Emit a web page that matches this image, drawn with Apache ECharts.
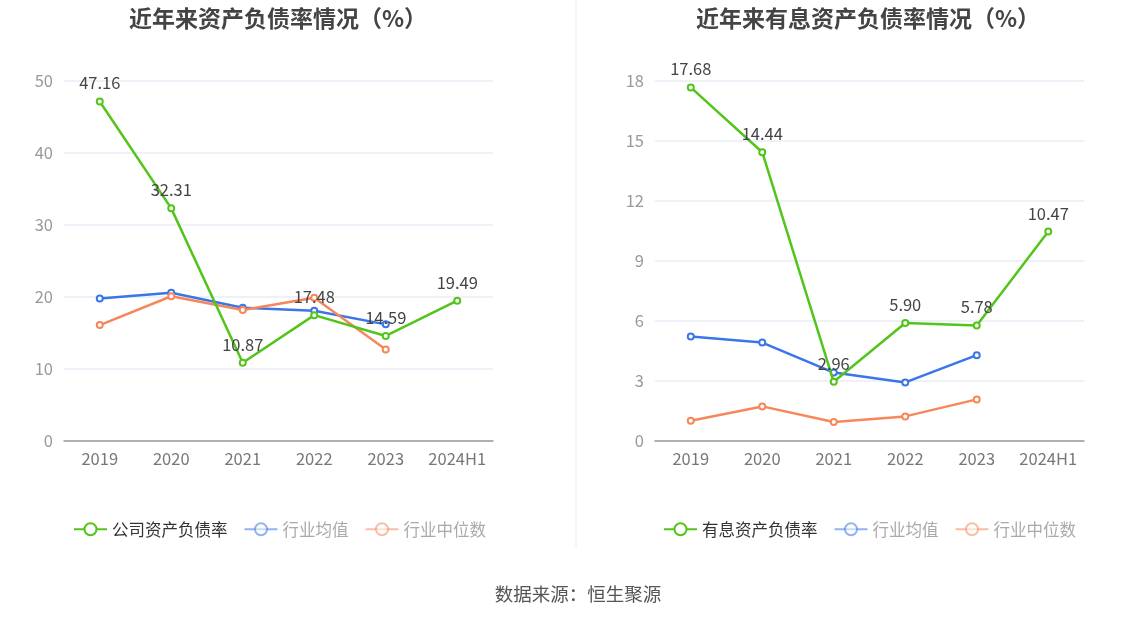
<!DOCTYPE html>
<html>
<head>
<meta charset="utf-8">
<script src="https://cdn.jsdelivr.net/npm/echarts@6/dist/echarts.min.js"></script>
<style>
  html, body { margin: 0; padding: 0; background: #fff; }
  #main { width: 1147px; height: 619px; }
</style>
</head>
<body>
<div id="main"></div>
<script>
const years = ['2019', '2020', '2021', '2022', '2023', '2024H1']

// left chart: 资产负债率
const companyDebt = [47.16, 32.31, 10.87, 17.48, 14.59, 19.49]
const industryAvg = [19.8, 20.6, 18.5, 18.1, 16.2, null]
const industryMid = [16.1, 20.1, 18.2, 19.9, 12.7, null]

// right chart: 有息资产负债率
const interestDebt = [17.68, 14.44, 2.96, 5.90, 5.78, 10.47]
const interestAvg = [5.23, 4.92, 3.42, 2.93, 4.29, null]
const interestMid = [1.01, 1.73, 0.95, 1.23, 2.08, null]

const green = '#52c41a'
const blue = '#3a76e8'
const orange = '#f7875a'
const font = '"Noto Sans CJK SC", "Noto Sans", sans-serif'

const chart = echarts.init(document.getElementById('main'))

const lineSeries = (name, data, color, xi, withLabel) => ({
    name: name,
    type: 'line',
    xAxisIndex: xi,
    yAxisIndex: xi,
    data: data,
    symbol: 'emptyCircle',
    symbolSize: 6,
    connectNulls: false,
    lineStyle: { color: color, width: 2.5 },
    itemStyle: { color: color, borderWidth: 2 },
    label: withLabel ? {
        show: true, position: 'top', distance: 6, color: '#444', fontSize: 16.5, fontFamily: font,
        formatter: p => p.value.toFixed(2)
    } : { show: false },
    z: withLabel ? 3 : 2
})

const xAxisBase = gi => ({
    type: 'category',
    gridIndex: gi,
    data: years,
    boundaryGap: true,
    axisLine: { lineStyle: { color: '#999', width: 1.5 } },
    axisTick: { alignWithLabel: true, lineStyle: { color: '#999' } },
    axisLabel: { interval: 0, color: '#777', fontSize: 16.5, fontFamily: font, margin: 9 }
})

const yAxisBase = (gi, max, interval) => ({
    type: 'value',
    gridIndex: gi,
    min: 0,
    max: max,
    interval: interval,
    axisLine: { show: false },
    axisTick: { show: false },
    axisLabel: { color: '#999', fontSize: 16.5, fontFamily: font, margin: 11 },
    splitLine: { lineStyle: { color: '#e8ecf4', width: 1.5 } }
})

const legendData = (first) => [
    { name: first, textStyle: { color: '#333' } },
    { name: '行业均值', textStyle: { color: '#aaa' }, itemStyle: { opacity: 0.55 }, lineStyle: { opacity: 0.55 } },
    { name: '行业中位数', textStyle: { color: '#aaa' }, itemStyle: { opacity: 0.55 }, lineStyle: { opacity: 0.55 } }
]

const option = {
    backgroundColor: '#fff',
    animation: false,
    title: [
        { text: '近年来资产负债率情况（%）', left: 273, top: 2, textAlign: 'center',
          textStyle: { fontSize: 23, fontWeight: 'bold', color: '#444', fontFamily: font } },
        { text: '近年来有息资产负债率情况（%）', left: 863, top: 2, textAlign: 'center',
          textStyle: { fontSize: 23, fontWeight: 'bold', color: '#444', fontFamily: font } },
        { text: '数据来源：恒生聚源', left: 573, top: 580, textAlign: 'center',
          textStyle: { fontSize: 18.5, fontWeight: 'normal', color: '#555', fontFamily: font } }
    ],
    legend: [
        { data: legendData('公司资产负债率'), left: 68, top: 516, itemWidth: 33, itemHeight: 15, itemGap: 16,
          textStyle: { fontSize: 16.5, fontFamily: font } },
        { data: legendData('有息资产负债率'), left: 658, top: 516, itemWidth: 33, itemHeight: 15, itemGap: 16,
          textStyle: { fontSize: 16.5, fontFamily: font } }
    ],
    grid: [
        { left: 64, top: 81, width: 429, height: 360 },
        { left: 655, top: 81, width: 429, height: 360 }
    ],
    xAxis: [xAxisBase(0), xAxisBase(1)],
    yAxis: [yAxisBase(0, 50, 10), yAxisBase(1, 18, 3)],
    graphic: [
        { type: 'line', shape: { x1: 576, y1: 0, x2: 576, y2: 548 }, style: { stroke: '#eee', lineWidth: 1 } }
    ],
    series: [
        lineSeries('公司资产负债率', companyDebt, green, 0, true),
        lineSeries('行业均值', industryAvg, blue, 0, false),
        lineSeries('行业中位数', industryMid, orange, 0, false),
        lineSeries('有息资产负债率', interestDebt, green, 1, true),
        lineSeries('行业均值', interestAvg, blue, 1, false),
        lineSeries('行业中位数', interestMid, orange, 1, false)
    ]
}

chart.setOption(option)
</script>
</body>
</html>
